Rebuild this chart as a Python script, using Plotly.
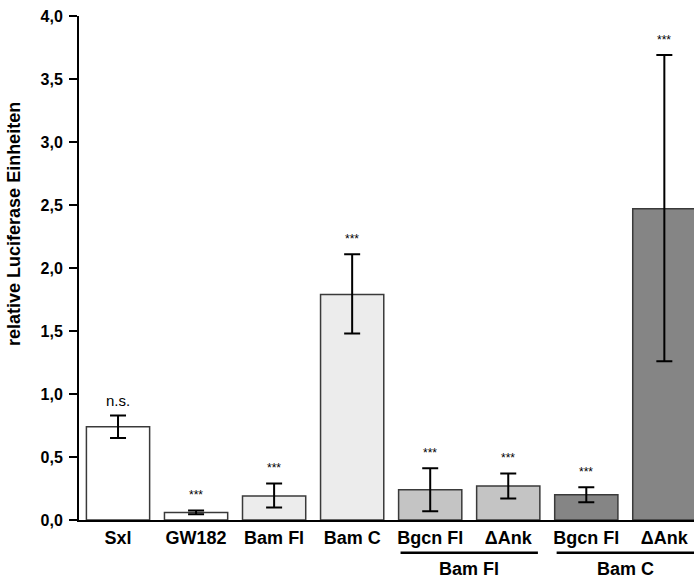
import plotly.graph_objects as go

categories = ["Sxl", "GW182", "Bam Fl", "Bam C", "Bgcn Fl", "ΔAnk", "Bgcn Fl", "ΔAnk"]
values = [0.74, 0.06, 0.19, 1.79, 0.24, 0.27, 0.20, 2.47]
err_plus = [0.09, 0.015, 0.10, 0.32, 0.17, 0.10, 0.06, 1.22]
err_minus = [0.09, 0.015, 0.09, 0.31, 0.17, 0.10, 0.06, 1.21]
sig_labels = ["n.s.", "***", "***", "***", "***", "***", "***", "***"]
bar_colors = ["#ffffff", "#ffffff", "#ececec", "#ececec", "#c4c4c4", "#c4c4c4", "#858585", "#858585"]
groups = [("Bam Fl", 4, 5), ("Bam C", 6, 7)]
y_ticks = [0, 0.5, 1.0, 1.5, 2.0, 2.5, 3.0, 3.5, 4.0]
y_title = "relative Luciferase Einheiten"

FONT = "Liberation Sans, Arial, sans-serif"
xs = list(range(len(categories)))

fig = go.Figure()
fig.add_trace(go.Bar(
    x=xs, y=values, width=0.81,
    marker=dict(color=bar_colors, line=dict(color="#3a3a3a", width=1.5)),
    error_y=dict(type="data", array=err_plus, arrayminus=err_minus,
                 color="#000000", thickness=2, width=8),
    showlegend=False,
))

annotations = []
for i, (v, ep, lab) in enumerate(zip(values, err_plus, sig_labels)):
    annotations.append(dict(
        x=i, y=v + ep + 0.12, xref="x", yref="y", text=lab, showarrow=False,
        font=dict(family=FONT, size=15 if lab == "n.s." else 12, color="#000000"),
        yanchor="middle",
    ))

shapes = []
for name, a, b in groups:
    shapes.append(dict(type="line", xref="x", yref="paper", x0=a - 0.38, x1=b + 0.38,
                       y0=-0.065, y1=-0.065, line=dict(color="#000", width=2.5)))
    annotations.append(dict(x=(a + b) / 2, y=-0.097, xref="x", yref="paper", text="<b>%s</b>" % name,
                            showarrow=False, yanchor="middle",
                            font=dict(family=FONT, size=18, color="#000")))

annotations.append(dict(x=-0.106, y=0.587, xref="paper", yref="paper", text="<b>%s</b>" % y_title,
                        textangle=-90, showarrow=False, xanchor="center", yanchor="middle",
                        font=dict(family=FONT, size=18, color="#000")))

fig.update_layout(
    width=694, height=579,
    margin=dict(l=79, r=0, t=16, b=59),
    paper_bgcolor="white", plot_bgcolor="white",
    separators=",.",
    font=dict(family=FONT, color="#000"),
    annotations=annotations, shapes=shapes,
    xaxis=dict(
        range=[-0.5, 7.38], tickmode="array", tickvals=xs,
        ticktext=["<b>%s</b>" % c for c in categories],
        tickfont=dict(size=18, family=FONT), showline=True, linecolor="#000", linewidth=2,
        ticks="", showgrid=False, zeroline=False, fixedrange=True,
    ),
    yaxis=dict(
        range=[0, 4.0], tickvals=y_ticks, tickformat=".1f",
        tickfont=dict(size=16, family=FONT, weight="bold"),
        ticks="outside", ticklen=8, tickwidth=2, tickcolor="#000", ticklabelstandoff=3,
        showline=True, linecolor="#000", linewidth=2, showgrid=False, zeroline=False,
    ),
)
fig.write_html("out.html")
